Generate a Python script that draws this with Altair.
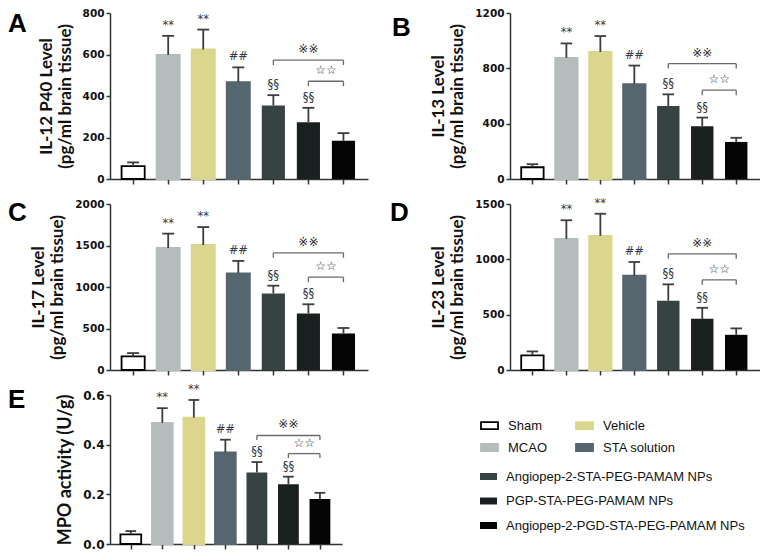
import altair as alt
import pandas as pd

groups = ["Sham", "MCAO", "Vehicle", "STA solution",
          "Angiopep-2-STA-PEG-PAMAM NPs", "PGP-STA-PEG-PAMAM NPs",
          "Angiopep-2-PGD-STA-PEG-PAMAM NPs"]
bar_colors = ["#ffffff", "#b5bdbc", "#dbd68e", "#56666e", "#374242", "#1a1f1f", "#050505"]
stroke_colors = ["#000000", "#b5bdbc", "#dbd68e", "#56666e"]
sig_marks = ["", "**", "**", "##", "§§", "§§", ""]

a_mean = [62, 598, 624, 467, 354, 274, 184]
a_sd = [18, 92, 96, 71, 50, 69, 37]
a_ticks = [0, 200, 400, 600, 800]
a_brackets = [573, 471]

b_mean = [85, 876, 918, 686, 528, 382, 268]
b_sd = [22, 104, 115, 134, 84, 62, 30]
b_ticks = [0, 400, 800, 1200]
b_brackets = [834, 642]

c_mean = [165, 1470, 1506, 1165, 922, 682, 439]
c_sd = [39, 173, 216, 149, 94, 110, 67]
c_ticks = [0, 500, 1000, 1500, 2000]
c_brackets = [1412, 1118]

d_mean = [132, 1185, 1212, 853, 626, 462, 318]
d_sd = [36, 168, 200, 123, 148, 100, 58]
d_ticks = [0, 500, 1000, 1500]
d_brackets = [1050, 815]

e_mean = [0.039, 0.488, 0.509, 0.369, 0.288, 0.241, 0.181]
e_sd = [0.013, 0.059, 0.071, 0.051, 0.042, 0.030, 0.025]
e_ticks = [0.0, 0.2, 0.4, 0.6]
e_brackets = [0.437, 0.364]

bracket_labels = ["※※", "☆☆"]
bracket_from = [4, 5]
bracket_to = [6, 6]

AXIS_COLOR = "#333333"
SYMBOL = "M-1,-0.41H1V0.41H-1Z"


def panel(letter, title, means, sds, ticks, brackets, width, height, fmt,
          label_size, title_size, letter_x, letter_y, show_legend=False):
    ymax = ticks[-1]
    df = pd.DataFrame({"idx": list(range(7)), "group": groups, "mean": means,
                       "sd": sds, "sig": sig_marks})
    xs = alt.Scale(domain=[-0.66, 6.7], nice=False, zero=False)
    ys = alt.Scale(domain=[0, ymax], nice=False, zero=True)
    xa = alt.Axis(values=list(range(7)), labels=False, title=None, grid=False,
                  tickSize=5, tickColor=AXIS_COLOR, tickWidth=1.5,
                  domainColor=AXIS_COLOR, domainWidth=1.5)
    ya = alt.Axis(values=ticks, format=fmt, title=title, grid=False,
                  tickSize=4, tickColor=AXIS_COLOR, tickWidth=1.5,
                  domainColor=AXIS_COLOR, domainWidth=1.5,
                  labelFont="DejaVu Sans", labelFontWeight="bold",
                  labelFontSize=label_size, labelColor="#111111", labelPadding=2,
                  titleFont="Lato", titleFontWeight="bold", titleFontSize=title_size,
                  titleColor="#111111", titlePadding=8, titleLineHeight=title_size + 2)

    def X(f):
        return alt.X(f, scale=xs, axis=xa)

    def Y(f):
        return alt.Y(f, scale=ys, axis=ya)

    base = alt.Chart(df).transform_calculate(
        top="datum.mean + datum.sd",
        left="datum.idx - 0.33", right="datum.idx + 0.33",
        capl="datum.idx - 0.17", capr="datum.idx + 0.17")

    l1_domain = groups[:4]
    l1_fill = bar_colors[:4]
    l1_stroke = stroke_colors[:4]
    if show_legend:
        leg1 = alt.Legend(orient="none", legendX=370, legendY=21, columns=2, title=None,
                          symbolType=SYMBOL, symbolSize=289, symbolStrokeWidth=1.8,
                          labelFont="Liberation Sans", labelFontSize=13, labelColor="#111111",
                          labelOffset=9, labelLimit=400, columnPadding=25, rowPadding=5,
                          padding=0)
        leg2 = alt.Legend(orient="none", legendX=370, legendY=73, title=None,
                          symbolType=SYMBOL, symbolSize=289, symbolStrokeWidth=0,
                          labelFont="Liberation Sans", labelFontSize=13, labelColor="#111111",
                          labelOffset=9, labelLimit=400, rowPadding=8.5, padding=0)
    else:
        leg1 = None
        leg2 = None

    bars1 = base.transform_filter("datum.idx < 4").mark_bar(strokeWidth=1.8).encode(
        x=X("left:Q"), x2="right:Q", y=Y("mean:Q"), y2=alt.datum(0),
        fill=alt.Fill("group:N", scale=alt.Scale(domain=l1_domain, range=l1_fill), legend=leg1),
        stroke=alt.Stroke("group:N", scale=alt.Scale(domain=l1_domain, range=l1_stroke), legend=leg1),
    )
    bars2 = base.transform_filter("datum.idx >= 4").mark_bar().encode(
        x=X("left:Q"), x2="right:Q", y=Y("mean:Q"), y2=alt.datum(0),
        color=alt.Color("group:N", scale=alt.Scale(domain=groups[4:], range=bar_colors[4:]), legend=leg2),
    )
    err = base.mark_rule(color="#3d3d3d", strokeWidth=1.8).encode(
        x=X("idx:Q"), y=Y("mean:Q"), y2="top:Q")
    cap = base.mark_rule(color="#3d3d3d", strokeWidth=1.8).encode(
        x=X("capl:Q"), x2="capr:Q", y=Y("top:Q"))
    sig = base.mark_text(dy=-10, baseline="middle", font="DejaVu Sans", fontSize=11.5,
                         color="#343a48").encode(x=X("idx:Q"), y=Y("top:Q"), text="sig:N")

    bdf = pd.DataFrame({"x0": bracket_from, "x1": bracket_to, "level": brackets,
                        "label": bracket_labels})
    bb = alt.Chart(bdf)
    hline = bb.mark_rule(color="#6a6a6a", strokeWidth=1.3).encode(
        x=X("x0:Q"), x2="x1:Q", y=Y("level:Q"))
    ends = bb.transform_fold(["x0", "x1"], as_=["end", "xe"]).transform_calculate(
        low=f"datum.level - {0.03 * ymax}").mark_rule(color="#6a6a6a", strokeWidth=1.3).encode(
        x=X("xe:Q"), y=Y("level:Q"), y2="low:Q")
    btext = bb.transform_calculate(mid="(datum.x0 + datum.x1) / 2").mark_text(
        dy=-11, baseline="middle", font="DejaVu Sans", fontSize=12, color="#2a2a2a").encode(
        x=X("mid:Q"), y=Y("level:Q"), text="label:N")

    let = alt.Chart(pd.DataFrame({"t": [letter]})).mark_text(
        align="left", baseline="top", font="Liberation Sans", fontSize=26,
        fontWeight="bold", color="#000000").encode(
        text="t:N", x=alt.value(letter_x), y=alt.value(letter_y))

    return alt.layer(bars1, bars2, err, cap, sig, hline, ends, btext, let).properties(
        width=width, height=height)


pA = panel("A", ["IL-12 P40 Level", "(pg/ml brain tissue)"], a_mean, a_sd, a_ticks, a_brackets,
           258, 166, "d", 10.5, 17, -102, -2)
pB = panel("B", ["IL-13 Level", "(pg/ml brain tissue)"], b_mean, b_sd, b_ticks, b_brackets,
           250, 166, "d", 10.5, 17, -118, 2)
pC = panel("C", ["IL-17 Level", "(pg/ml brain tissue)"], c_mean, c_sd, c_ticks, c_brackets,
           258, 166, "d", 10.5, 17, -102, -4)
pD = panel("D", ["IL-23 Level", "(pg/ml brain tissue)"], d_mean, d_sd, d_ticks, d_brackets,
           250, 166, "d", 10.5, 17, -120, -4)
pE = panel("E", "MPO activity (U/g)", e_mean, e_sd, e_ticks, e_brackets,
           232, 149, ".1f", 12, 18, -102, -8, show_legend=True)

res = dict(fill="independent", stroke="independent", color="independent")
chart = alt.concat(pA, pB, pC, pD, pE, columns=2, spacing={"row": 25, "column": 142},
                   bounds="flush").resolve_scale(**res).properties(
    padding=0).configure_view(stroke=None)

chart.save("out.html", embed_options={"renderer": "svg", "actions": False})
